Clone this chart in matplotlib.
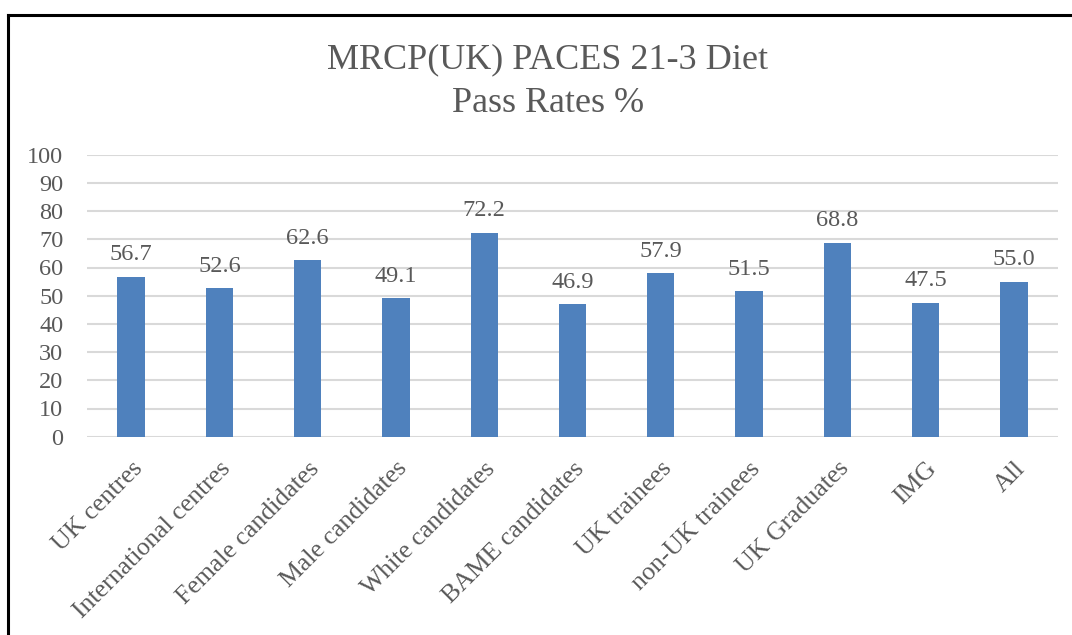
import matplotlib
matplotlib.use("Agg")
import matplotlib.pyplot as plt
from matplotlib.lines import Line2D

categories = ["UK centres", "International centres", "Female candidates",
              "Male candidates", "White candidates", "BAME candidates",
              "UK trainees", "non-UK trainees", "UK Graduates", "IMG", "All"]
pass_rates = [56.7, 52.6, 62.6, 49.1, 72.2, 46.9, 57.9, 51.5, 68.8, 47.5, 55.0]
y_ticks = list(range(0, 101, 10))

text_col = "#595959"
bar_col = "#4F81BD"
grid_col = "#D9D9D9"
plt.rcParams["font.family"] = ["Liberation Serif", "DejaVu Serif"]

fig = plt.figure(figsize=(10.72, 6.35), dpi=100)
ax = fig.add_axes([87/1072, 1 - 436.7/635, (1058 - 87)/1072, (436.7 - 154.7)/635])

x = range(len(categories))
bars = ax.bar(x, pass_rates, width=0.31, color=bar_col, zorder=3)
for b, v in zip(bars, pass_rates):
    ax.annotate(f"{v:.1f}", (b.get_x() + b.get_width()/2, v), xytext=(0, 12),
                textcoords="offset points", ha="center", va="baseline",
                fontsize=17.5, color=text_col)

ax.set_xlim(-0.5, len(categories) - 0.5)
ax.set_ylim(0, 100)
ax.set_yticks(y_ticks)
ax.yaxis.grid(True, color=grid_col, linewidth=1.5, zorder=0)
ax.set_axisbelow(True)
for s in ax.spines.values():
    s.set_visible(False)
ax.tick_params(axis="both", length=0, colors=text_col)
ax.tick_params(axis="y", pad=17, labelsize=17.5)
ax.set_xticks(list(x))
ax.set_xticklabels(categories, rotation=45, ha="right", rotation_mode="anchor")
ax.tick_params(axis="x", pad=15, labelsize=18.5)

# two title lines
fig.text(0.511, 1 - 60/635, "MRCP(UK) PACES 21-3 Diet", ha="center",
         va="center", fontsize=26, color=text_col)
fig.text(0.511, 1 - 104/635, "Pass Rates %", ha="center",
         va="center", fontsize=26, color=text_col)

# frame on left and top (picture is cropped)
fig.add_artist(Line2D([8/1072, 8/1072], [0, 1 - 15/635], transform=fig.transFigure,
                      color="black", linewidth=2.2))
fig.add_artist(Line2D([8/1072, 1], [1 - 15/635, 1 - 15/635], transform=fig.transFigure,
                      color="black", linewidth=2.2))

fig.savefig("out.png", dpi=100)
